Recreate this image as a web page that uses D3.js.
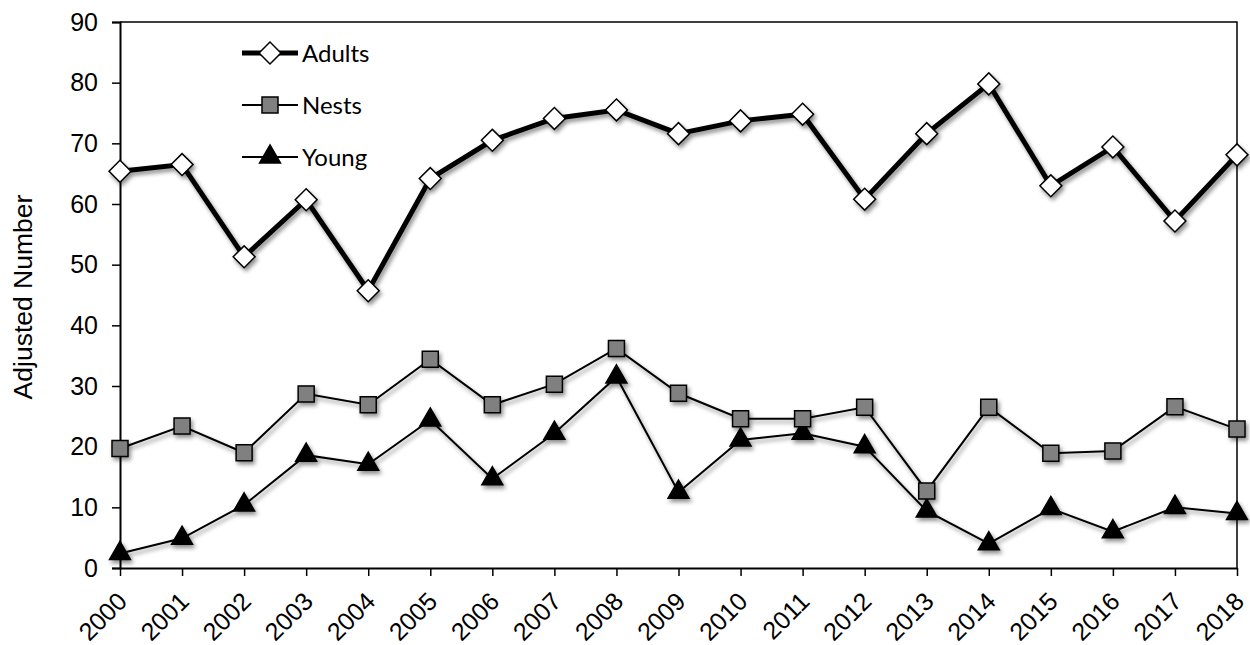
<!DOCTYPE html>
<html>
<head>
<meta charset="utf-8">
<script src="https://cdn.jsdelivr.net/npm/d3@7"></script>
<style>
  body { margin: 0; background: #fff; }
  svg { display: block; }
</style>
</head>
<body>
<div id="theChart"></div>
<script>
const years = [2000, 2001, 2002, 2003, 2004, 2005, 2006, 2007, 2008, 2009,
               2010, 2011, 2012, 2013, 2014, 2015, 2016, 2017, 2018]
const adults = [65.4, 66.5, 51.3, 60.7, 45.7, 64.2, 70.5, 74.1, 75.5, 71.6,
                73.7, 74.8, 60.8, 71.6, 79.8, 63.0, 69.4, 57.2, 68.1]
const nests = [19.7, 23.4, 19.0, 28.7, 26.9, 34.4, 26.9, 30.3, 36.2, 28.8,
               24.6, 24.6, 26.5, 12.7, 26.5, 18.9, 19.3, 26.6, 22.9]
const young = [2.4, 4.9, 10.4, 18.6, 17.1, 24.4, 14.7, 22.2, 31.5, 12.5,
               21.1, 22.2, 20.0, 9.4, 4.0, 9.8, 6.0, 10.0, 9.0]
const yTicks = [0, 10, 20, 30, 40, 50, 60, 70, 80, 90]
const seriesNames = ["Adults", "Nests", "Young"]

const w = 1250
const h = 645
const padL = 120, padR = 1237, padT = 22, padB = 568

const svg = d3.select("#theChart")
	.append("svg")
	.attr("width", w)
	.attr("height", h)

// drop shadow like the original
const filter = svg.append("defs").append("filter")
	.attr("id", "shadow")
	.attr("x", "-50%").attr("y", "-50%")
	.attr("width", "200%").attr("height", "200%")
filter.append("feDropShadow")
	.attr("dx", 2).attr("dy", 3)
	.attr("stdDeviation", 2)
	.attr("flood-color", "#000")
	.attr("flood-opacity", 0.45)

const x = d3.scalePoint().domain(years).range([padL, padR])
const y = d3.scaleLinear().domain([0, 90]).range([padB, padT])

// frame: top and right borders
svg.append("path")
	.attr("d", `M${padL},${padT}H${padR}V${padB}`)
	.attr("fill", "none")
	.attr("stroke", "#000")
	.attr("stroke-width", 1.5)

const yAxis = svg.append("g")
	.attr("transform", `translate(${padL},0)`)
	.call(d3.axisLeft(y).tickValues(yTicks).tickSize(8).tickPadding(14))
yAxis.select(".domain").attr("stroke-width", 2)
yAxis.selectAll(".tick line").attr("stroke-width", 1.5)
yAxis.selectAll("text")
	.attr("font-family", "Liberation Sans, Arial, sans-serif")
	.attr("font-size", 25)
	.attr("fill", "#000")

const xAxis = svg.append("g")
	.attr("transform", `translate(0,${padB})`)
	.call(d3.axisBottom(x).tickSize(8).tickSizeOuter(0))
xAxis.select(".domain").attr("stroke-width", 2)
xAxis.selectAll(".tick line").attr("stroke-width", 1.5)
xAxis.selectAll("text")
	.attr("font-family", "Liberation Sans, Arial, sans-serif")
	.attr("font-size", 25)
	.attr("fill", "#000")
	.attr("text-anchor", "end")
	.attr("dy", 0)
	.attr("y", 0)
	.attr("transform", "translate(8,35) rotate(-45)")

svg.append("text")
	.attr("transform", "translate(32,297) rotate(-90)")
	.attr("text-anchor", "middle")
	.attr("font-family", "Liberation Sans, Arial, sans-serif")
	.attr("font-size", 26.5)
	.attr("fill", "#000")
	.text("Adjusted Number")

const diamond = d3.symbol().type(d3.symbolSquare).size(240)
const square = d3.symbol().type(d3.symbolSquare).size(256)
const triangle = d3.symbol().type(d3.symbolTriangle).size(190)

const series = [
	{ name: seriesNames[0], values: adults, width: 5, shape: diamond, rot: 45, fill: "#fff" },
	{ name: seriesNames[1], values: nests, width: 2, shape: square, rot: 0, fill: "#808080" },
	{ name: seriesNames[2], values: young, width: 2, shape: triangle, rot: 0, fill: "#000" },
]

const line = d3.line().x((d, i) => x(years[i])).y(d => y(d))

series.slice().reverse().forEach(s => {
	const g = svg.append("g").attr("filter", "url(#shadow)")
	g.append("path")
		.attr("d", line(s.values))
		.attr("fill", "none")
		.attr("stroke", "#000")
		.attr("stroke-width", s.width)
		.attr("stroke-linejoin", "miter")
	g.selectAll("path.mark")
		.data(s.values)
		.enter()
		.append("path")
		.attr("class", "mark")
		.attr("d", s.shape)
		.attr("transform", (d, i) => `translate(${x(years[i])},${y(d)}) rotate(${s.rot})`)
		.attr("fill", s.fill)
		.attr("stroke", "#000")
		.attr("stroke-width", 1.5)
})

// legend
const legend = svg.append("g").attr("id", "legend")
series.forEach((s, i) => {
	const ly = 53 + i * 52
	legend.append("line")
		.attr("x1", 242).attr("x2", 298)
		.attr("y1", ly).attr("y2", ly)
		.attr("stroke", "#000")
		.attr("stroke-width", s.width)
	legend.append("path")
		.attr("d", s.shape)
		.attr("transform", `translate(270,${ly}) rotate(${s.rot})`)
		.attr("fill", s.fill)
		.attr("stroke", "#000")
		.attr("stroke-width", 1.5)
	legend.append("text")
		.attr("x", 302)
		.attr("y", ly + 9)
		.attr("font-family", "Lato, Open Sans, sans-serif")
		.attr("font-size", 24)
		.attr("fill", "#000")
		.text(s.name)
})
</script>
</body>
</html>
